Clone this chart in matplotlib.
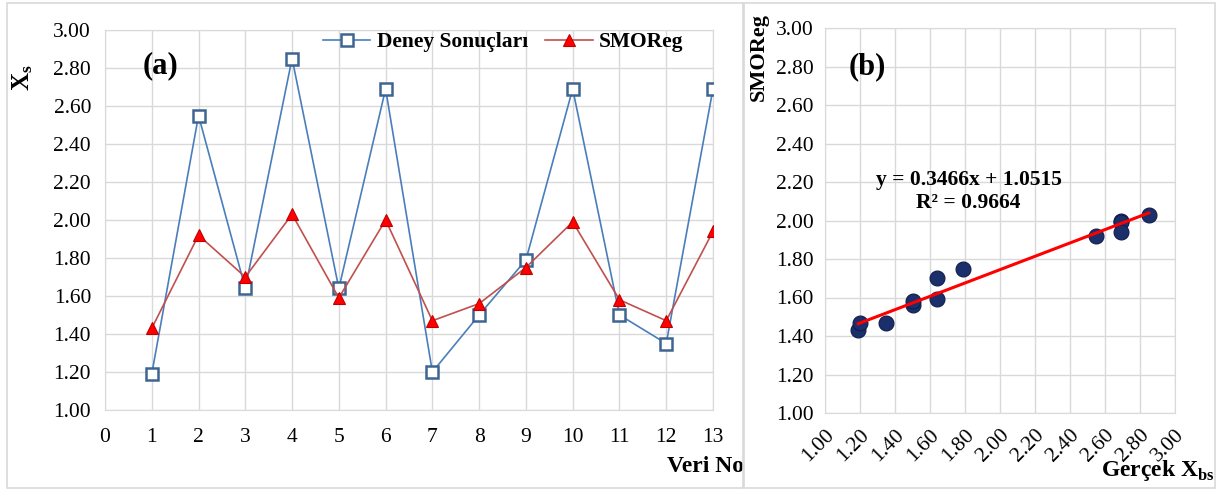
import matplotlib
matplotlib.use("Agg")
import matplotlib.pyplot as plt
import numpy as np
from matplotlib.patches import Rectangle

plt.rcParams["font.family"] = ["Liberation Serif", "DejaVu Serif"]
plt.rcParams["mathtext.fontset"] = "custom"
plt.rcParams["mathtext.rm"] = "Liberation Serif"
plt.rcParams["mathtext.bf"] = "Liberation Serif:bold"

# veriler
veri_no = [1, 2, 3, 4, 5, 6, 7, 8, 9, 10, 11, 12, 13]
deney = [1.19, 2.55, 1.64, 2.85, 1.64, 2.69, 1.20, 1.50, 1.79, 2.69, 1.50, 1.35, 2.69]
smoreg = [1.43, 1.92, 1.70, 2.03, 1.59, 2.00, 1.47, 1.56, 1.75, 1.99, 1.58, 1.47, 1.94]
egim, kesim = 0.3466, 1.0515
r2 = 0.9664

y_ticks = np.arange(1.0, 3.01, 0.2)
xb_ticks = np.arange(1.0, 3.01, 0.2)

grid_c = "#d9d9d9"
tick_fs = 15.5
fig = plt.figure(figsize=(12.22, 4.91), dpi=100)

# panel cerceveleri
for x0, w in [(7 / 1222, 736 / 1222), (744 / 1222, 471 / 1222)]:
    fig.patches.append(Rectangle((x0, 3 / 491), w, 485 / 491, transform=fig.transFigure,
                                 fill=False, edgecolor=grid_c, linewidth=1.2))

# (a)
ax1 = fig.add_axes([105 / 1222, 1 - 410 / 491, 608 / 1222, 380 / 491])
ax1.plot(veri_no, deney, color="#4a7ebb", linewidth=1.2, marker="s", markersize=8.5,
         markerfacecolor="white", markeredgecolor="#3e6591", markeredgewidth=1.8,
         label="Deney Sonuçları", zorder=3)
ax1.plot(veri_no, smoreg, color="#c0504d", linewidth=1.2, marker="^", markersize=9,
         markerfacecolor="#ff0000", markeredgecolor="#c00000", markeredgewidth=0.8,
         label="SMOReg", zorder=4)
ax1.set_xlim(0, 13)
ax1.set_ylim(1.0, 3.0)
ax1.set_xticks(range(0, 14))
ax1.set_yticks(y_ticks)
ax1.set_yticklabels([f"{v:.2f}" for v in y_ticks])
ax1.grid(True, color=grid_c, linewidth=1)
ax1.set_axisbelow(True)
for s in ax1.spines.values():
    s.set_color(grid_c)
ax1.tick_params(length=0, labelsize=tick_fs)
ax1.tick_params(axis="x", pad=13)
ax1.tick_params(axis="y", pad=10)
ax1.text(0.092, 0.905, "(a)", transform=ax1.transAxes, fontsize=22, fontweight="bold",
         ha="center", va="center")
ax1.text(-0.135, 0.875, r"$\mathbf{X_s}$", transform=ax1.transAxes, fontsize=18,
         rotation=90, ha="center", va="center")
ax1.text(0.987, -0.15, "Veri No", transform=ax1.transAxes, fontsize=17, fontweight="bold",
         ha="center", va="center")
ax1.legend(loc="upper center", bbox_to_anchor=(0.655, 1.045), ncol=2, frameon=False,
           prop={"weight": "bold", "size": 15.5}, handlelength=2.2, columnspacing=0.8,
           handletextpad=0.3)

# (b)
ax2 = fig.add_axes([825 / 1222, 1 - 413 / 491, 350 / 1222, 385 / 491])
ax2.scatter(deney, smoreg, s=115, color="#1b2f6b", edgecolors="#0f1d4a", linewidths=0.8,
            zorder=3)
x_fit = np.array([min(deney), max(deney)])
ax2.plot(x_fit, egim * x_fit + kesim, color="#ff0000", linewidth=2.2, zorder=4)
ax2.set_xlim(1.0, 3.0)
ax2.set_ylim(1.0, 3.0)
ax2.set_xticks(xb_ticks)
ax2.set_xticklabels([f"{v:.2f}" for v in xb_ticks], rotation=45, ha="right",
                    rotation_mode="anchor")
ax2.set_yticks(y_ticks)
ax2.set_yticklabels([f"{v:.2f}" for v in y_ticks])
ax2.grid(True, color=grid_c, linewidth=1)
ax2.set_axisbelow(True)
for s in ax2.spines.values():
    s.set_color(grid_c)
ax2.tick_params(length=0, labelsize=tick_fs)
ax2.tick_params(axis="x", pad=9)
ax2.tick_params(axis="y", pad=8)
ax2.text(0.12, 0.9, "(b)", transform=ax2.transAxes, fontsize=22, fontweight="bold",
         ha="center", va="center")
ax2.text(0.41, 0.575, f"y = {egim:.4f}x + {kesim:.4f}\nR² = {r2:.4f}",
         transform=ax2.transAxes, fontsize=15.5, fontweight="bold", ha="center",
         va="center", linespacing=1.2)
ax2.text(-0.19, 0.925, "SMOReg", transform=ax2.transAxes, fontsize=16, fontweight="bold",
         rotation=90, ha="center", va="center")
ax2.text(0.95, -0.15, r"Gerçek X$_\mathbf{bs}$", transform=ax2.transAxes, fontsize=17,
         fontweight="bold", ha="center", va="center")

fig.savefig("out.png", dpi=100)
